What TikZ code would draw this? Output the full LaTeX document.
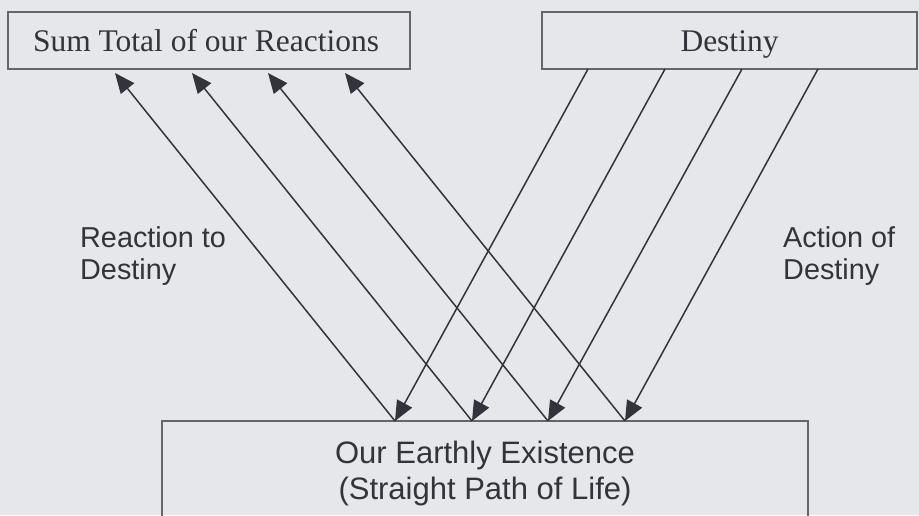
\documentclass[tikz,border=0pt]{standalone}
\usepackage{fontspec}
\setmainfont{Liberation Serif}
\setsansfont{Liberation Sans}
\usetikzlibrary{arrows.meta}
\definecolor{bgc}{RGB}{229,231,235}
\definecolor{ink}{RGB}{50,52,60}
\definecolor{boxc}{RGB}{100,102,108}
\tikzset{
  topbox/.style={draw=boxc, line width=1.8pt, inner sep=0pt, text height=25pt, text depth=3pt, font=\fontsize{31.5}{34}\selectfont, text=ink},
  botbox/.style={draw=boxc, line width=1.8pt, inner sep=0pt, align=center, font=\sffamily\fontsize{31}{36}\selectfont, text=ink},
  lbl/.style={align=left, font=\sffamily\fontsize{28.8}{32}\selectfont, text=ink, inner sep=0pt},
  conn/.style={draw=ink, line width=1.5pt},
  arr/.style={conn, -{Triangle[length=20pt,width=17pt]}}
}
\begin{document}
\begin{tikzpicture}[x=1pt,y=-1pt]
\useasboundingbox[fill=bgc] (0,0) rectangle (919,515);
\begin{scope}
\clip (0,0) rectangle (919,515);
\node[topbox, minimum width=402pt, minimum height=57pt] (sum) at (209,40.5) {Sum Total of our Reactions\hspace*{6pt}};
\node[topbox, minimum width=375pt, minimum height=57pt] (dest) at (729.5,40.5) {Destiny};
\node[botbox, minimum width=646pt, minimum height=104pt] (earth) at (485,473) {Our Earthly Existence\\(Straight Path of Life)};
\end{scope}
\node[lbl, anchor=west] (react) at (80,256) {Reaction to\\Destiny};
\node[lbl, anchor=west] (act) at (783,256) {Action of\\Destiny};
% points on the bottom box
\coordinate (b1) at (395,421);
\coordinate (b2) at (472,421);
\coordinate (b3) at (548,421);
\coordinate (b4) at (625,421);
% arrow tips under the left box
\coordinate (t1) at (115,73);
\coordinate (t2) at (192,73);
\coordinate (t3) at (268,73);
\coordinate (t4) at (345,73);
% starts on the destiny box
\coordinate (d1) at (588,69);
\coordinate (d2) at (665,69);
\coordinate (d3) at (742,69);
\coordinate (d4) at (818,69);
\foreach \i in {1,2,3,4}{
  \draw[arr] (b\i) -- (t\i);
  \draw[arr] (d\i) -- (b\i);
}
\end{tikzpicture}
\end{document}
